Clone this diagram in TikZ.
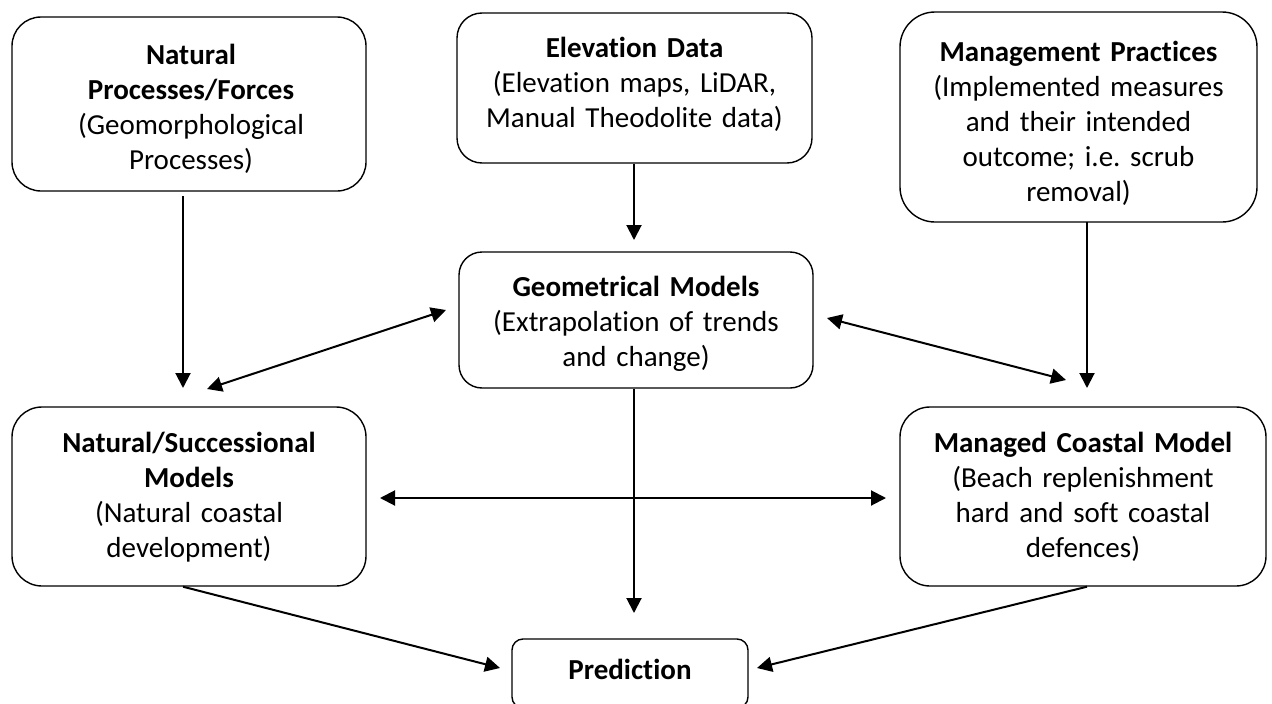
\documentclass[tikz,border=0pt]{standalone}
\usepackage{fontspec}
\setmainfont{Carlito}[Ligatures={NoCommon}]
\frenchspacing
\usetikzlibrary{arrows.meta,calc}
\begin{document}
\begin{tikzpicture}[x=1pt,y=-1pt,
  box/.style={draw=black,line width=1.4pt,rounded corners=#1,inner sep=0pt,fill=white},
  box/.default=30pt,
  label/.style={anchor=base,text width=360pt,align=center,inner sep=0pt,
    font=\fontsize{29}{35}\selectfont},
  link/.style={line width=2pt,-{Triangle[length=15pt,width=15pt]}},
  twoway/.style={line width=2pt,{Triangle[length=15pt,width=15pt]}-{Triangle[length=15pt,width=15pt]}}]
\useasboundingbox (0,0) rectangle (1272,704);

% boxes
\node[box=29pt,minimum width=354pt,minimum height=174pt] (forces) at (189,104) {};
\node[box=25pt,minimum width=355pt,minimum height=150pt] (elev) at (634.5,88) {};
\node[box=35pt,minimum width=357pt,minimum height=210pt] (mgmt) at (1078.5,117) {};
\node[box=30pt,minimum width=354pt,minimum height=179pt] (natural) at (189,496.5) {};
\node[box=23pt,minimum width=354pt,minimum height=136pt] (geom) at (636,320) {};
\node[box=30pt,minimum width=366pt,minimum height=179pt] (managed) at (1083,496.5) {};
\node[box=11pt,minimum width=236pt,minimum height=69pt] (pred) at (630,673.5) {};

% box texts, each cut off at the inner margin of its box
\begin{scope}
  \clip (forces.north west) rectangle ($(forces.south east)+(0,-17)$);
  \node[label] (forcesT) at ($(forces.north)+(2,48)$)
    {\textbf{Natural}\\\textbf{Processes/Forces}\\(Geomorphological\\Processes)};
\end{scope}
\begin{scope}
  \clip (elev.north west) rectangle ($(elev.south east)+(0,-17)$);
  \node[label] (elevT) at ($(elev.north)+(0,45)$)
    {\textbf{Elevation Data}\\(Elevation maps, LiDAR,\\Manual Theodolite data)};
\end{scope}
\begin{scope}
  \clip (mgmt.north west) rectangle ($(mgmt.south east)+(0,-17)$);
  \node[label] (mgmtT) at ($(mgmt.north)+(0,50)$)
    {\textbf{Management Practices}\\(Implemented measures\\and their intended\\outcome; i.e. scrub\\removal)};
\end{scope}
\begin{scope}
  \clip (natural.north west) rectangle ($(natural.south east)+(0,-17)$);
  \node[label] (naturalT) at ($(natural.north)+(0,46)$)
    {\textbf{Natural/Successional}\\\textbf{Models}\\(Natural coastal\\development)};
\end{scope}
\begin{scope}
  \clip (geom.north west) rectangle ($(geom.south east)+(0,-17)$);
  \node[label] (geomT) at ($(geom.north)+(0,45)$)
    {\textbf{Geometrical Models}\\(Extrapolation of trends\\and change)};
\end{scope}
\begin{scope}
  \clip (managed.north west) rectangle ($(managed.south east)+(0,-17)$);
  \node[label] (managedT) at ($(managed.north)+(0,46)$)
    {\textbf{Managed Coastal Model}\\(Beach replenishment\\hard and soft coastal\\defences)};
\end{scope}
\node[label] (predT) at ($(pred.north)+(0,41)$) {\textbf{Prediction}};

% free ends of connectors
\coordinate (forcesOut) at (183,196);
\coordinate (natIn) at (183,388);
\coordinate (geomIn) at (634,240);
\coordinate (mgmtOut) at (1087,222);
\coordinate (manIn) at (1087,388);
\coordinate (natDiag) at (207,389);
\coordinate (geomL) at (446,310);
\coordinate (geomR) at (827,318);
\coordinate (manDiag) at (1066,380);
\coordinate (natH) at (380,498);
\coordinate (manH) at (886,498);
\coordinate (predTop) at (634,613);
\coordinate (predL) at (500,668);
\coordinate (predR) at (757,668);

% connectors
\draw[link] (forcesOut) -- (natIn);
\draw[link] (elev.south -| geomIn) -- (geomIn);
\draw[link] (mgmtOut) -- (manIn);
\draw[twoway] (natDiag) -- (geomL);
\draw[twoway] (geomR) -- (manDiag);
\draw[twoway] (natH) -- (manH);
\draw[link] (geom.south -| predTop) -- (predTop);
\draw[link] (natural.south -| forcesOut) -- (predL);
\draw[link] (managed.south -| mgmtOut) -- (predR);
\end{tikzpicture}
\end{document}
